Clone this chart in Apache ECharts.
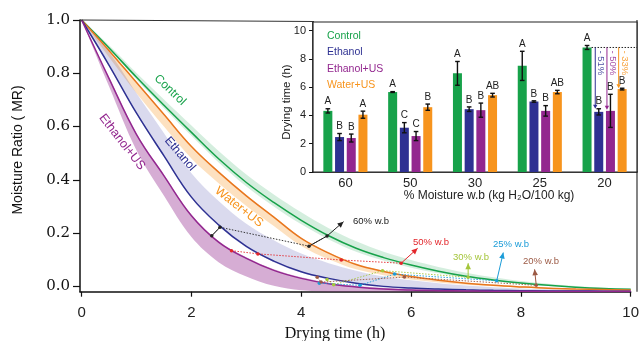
<!DOCTYPE html>
<html><head><meta charset="utf-8">
<script src="https://cdn.jsdelivr.net/npm/echarts@6/dist/echarts.min.js"></script>
<style>html,body{margin:0;padding:0;background:#fff}#c{width:642px;height:341px}</style>
</head><body><div id="c"></div>
<script>
// ---------- main chart data (drying curves) ----------
const timeH = [0,0.5,1,1.5,2,2.5,3,3.5,4,4.5,5,5.5,6,6.5,7,7.5,8,8.5,9,9.5,10];
const mrControl = [1.0,0.895,0.785,0.68,0.578,0.478,0.39,0.315,0.248,0.19,0.143,0.108,0.08,0.057,0.038,0.024,0.013,0.004,-0.003,-0.008,-0.011];
const loControl = [1.0,0.89,0.777,0.669,0.565,0.464,0.375,0.30,0.233,0.176,0.13,0.097,0.07,0.049,0.032,0.019,0.009,0.001,-0.005,-0.01,-0.012];
const hiControl = [1.0,0.905,0.801,0.702,0.604,0.507,0.42,0.345,0.278,0.218,0.169,0.13,0.099,0.073,0.051,0.034,0.02,0.01,0.001,-0.005,-0.009];
const mrEthanol = [1.0,0.83,0.65,0.49,0.335,0.23,0.15,0.095,0.055,0.03,0.012,0.0,-0.006,-0.01,-0.013,-0.015,-0.016,-0.017,-0.017,-0.018,-0.018];
const loEthanol = [1.0,0.826,0.646,0.486,0.331,0.226,0.146,0.091,0.051,0.026,0.008,-0.004,-0.01,-0.014,-0.017,-0.019,-0.02,-0.02,-0.02,-0.02,-0.02];
const hiEthanol = [1.0,0.88,0.725,0.575,0.425,0.32,0.235,0.173,0.123,0.087,0.059,0.037,0.023,0.012,0.003,-0.003,-0.008,-0.011,-0.013,-0.015,-0.016];
const mrEthUS = [1.0,0.78,0.57,0.415,0.265,0.165,0.105,0.06,0.03,0.01,-0.002,-0.01,-0.014,-0.016,-0.017,-0.018,-0.018,-0.019,-0.019,-0.019,-0.019];
const loEthUS = [1.0,0.75,0.51,0.34,0.185,0.09,0.037,0.002,-0.015,-0.02,-0.02,-0.02,-0.02,-0.02,-0.02,-0.02,-0.02,-0.02,-0.02,-0.02,-0.02];
const hiEthUS = [1.0,0.784,0.574,0.419,0.269,0.169,0.109,0.064,0.034,0.014,0.002,-0.006,-0.01,-0.012,-0.013,-0.014,-0.014,-0.015,-0.015,-0.015,-0.015];
const mrWater = [1.0,0.885,0.765,0.645,0.525,0.428,0.34,0.26,0.18,0.125,0.082,0.056,0.037,0.023,0.012,0.004,-0.002,-0.007,-0.01,-0.012,-0.014];
const loWater = [1.0,0.86,0.725,0.60,0.48,0.386,0.302,0.227,0.152,0.102,0.064,0.042,0.026,0.015,0.006,0.0,-0.005,-0.009,-0.012,-0.013,-0.015];
const hiWater = [1.0,0.888,0.768,0.648,0.528,0.431,0.343,0.263,0.183,0.128,0.085,0.059,0.04,0.026,0.015,0.007,0.001,-0.004,-0.007,-0.009,-0.011];

// moisture-level markers (time h, MR) in order EtUS/Ethanol/Water/Control
const lvlNames = ['60% w.b','50% w.b','30% w.b','25% w.b','20% w.b'];
const lvl60T = [2.37,2.52,4.14,4.47], lvl60MR = [0.190,0.222,0.151,0.189];
const lvl50T = [2.73,3.21,4.73,5.82], lvl50MR = [0.134,0.122,0.099,0.087];
const lvl30T = [4.47,4.59,5.48,7.04], lvl30MR = [0.026,0.006,0.059,0.034];
const lvl25T = [4.33,5.07,5.70,7.56], lvl25MR = [0.012,0.004,0.046,0.021];
const lvl20T = [4.29,4.36,5.88,8.28], lvl20MR = [0.034,0.016,0.035,0.004];
const arrowEndT = [4.77,6.12,7.04,7.68,8.25];
const arrowEndMR = [0.243,0.143,0.087,0.127,0.064];
const xTicks = [0,2,4,6,8,10];
const yTicks = [0,0.2,0.4,0.6,0.8,1.0];

// ---------- inset data (drying time to reach moisture) ----------
const moistureCats = ['60','50','30','25','20'];
const barControl = [4.32,5.65,6.97,7.50,8.80];
const errControl = [0.15,0.03,0.84,1.03,0.14];
const barEthanol = [2.47,3.13,4.44,4.98,4.25];
const errEthanol = [0.25,0.36,0.16,0.05,0.22];
const barEthUS = [2.40,2.54,4.37,4.32,4.32];
const errEthUS = [0.28,0.32,0.50,0.37,1.17];
const barWater = [4.05,4.58,5.43,5.65,5.86];
const errWater = [0.25,0.22,0.13,0.12,0.06];
const letControl = ['A','A','A','A','A'];
const letEthanol = ['B','C','B','B','B'];
const letEthUS = ['B','C','B','B','B'];
const letWater = ['A','B','AB','AB','B'];
const reductionText = ['- 51%','- 50%','- 33%'];
const reductionTarget = [4.47,4.40,5.92];
const insetTicks = [0,2,4,6,8,10];

// ---------- styles ----------
const SANS = '"Liberation Sans", Arial, sans-serif';
const SERIF = '"Liberation Serif", "Times New Roman", serif';
const C_GREEN = '#17a24a', C_NAVY = '#2e3192', C_PURPLE = '#93278f', C_ORANGE = '#f7941d';
const LINE_ORANGE = '#e8761e';
const lvlColors = ['#222222','#e3262b','#a5c63b','#1b9cd8','#9c5a45'];
const BAR_W = 9, BAR_GAP = 0.3, BAR_STEP = BAR_W * (1 + BAR_GAP);
const barOffset = i => (i - 1.5) * BAR_STEP;

const pair = (xs, ys) => xs.map((x, i) => [x, ys[i]]);

const curves = [
  {name:'Control', mr:mrControl, lo:loControl, hi:hiControl, line:C_GREEN, band:'rgba(40,170,90,0.2)'},
  {name:'Water+US', mr:mrWater, lo:loWater, hi:hiWater, line:LINE_ORANGE, band:'rgba(247,148,29,0.28)'},
  {name:'Ethanol', mr:mrEthanol, lo:loEthanol, hi:hiEthanol, line:C_NAVY, band:'rgba(70,70,170,0.2)'},
  {name:'Ethanol+US', mr:mrEthUS, lo:loEthUS, hi:hiEthUS, line:C_PURPLE, band:'rgba(146,39,143,0.38)'}
];

const series = [];
curves.forEach((c, k) => {
  series.push({type:'custom', name:c.name+' band', xAxisIndex:0, yAxisIndex:0, clip:true, z:1, silent:true,
    data: timeH.map((t, i) => [t, c.lo[i], c.hi[i]]), encode:{x:0, y:[1,2]},
    renderItem(params, api) {
      if (params.dataIndex !== 0) return null;
      const up = timeH.map((t, i) => api.coord([t, c.hi[i]]));
      const dn = timeH.map((t, i) => api.coord([t, c.lo[i]])).reverse();
      return {type:'polygon', shape:{points: up.concat(dn), smooth:0.35}, style:{fill:c.band}};
    }});
});
curves.forEach(c => {
  series.push({type:'line', name:c.name, xAxisIndex:0, yAxisIndex:0, data: pair(timeH, c.mr), smooth:0.4,
    showSymbol:false, symbol:'none', lineStyle:{color:c.line, width:1.5}, z:3});
});

const lvlT = [lvl60T, lvl50T, lvl30T, lvl25T, lvl20T];
const lvlMR = [lvl60MR, lvl50MR, lvl30MR, lvl25MR, lvl20MR];
lvlT.forEach((ts, k) => {
  series.push({type:'line', name:lvlNames[k], xAxisIndex:0, yAxisIndex:0, data: pair(ts, lvlMR[k]),
    symbol:'circle', symbolSize:3.5, showSymbol:true, itemStyle:{color:lvlColors[k]},
    lineStyle:{color:lvlColors[k], width:0.9, type:[1.5,1.5]}, z:4});
});

// segments: solid links for 60% and arrows to labels
const segData = [], segHead = [], segColor = [];
segData.push([lvl60T[0], lvl60MR[0], lvl60T[1], lvl60MR[1]]); segHead.push(0); segColor.push(lvlColors[0]);
segData.push([lvl60T[2], lvl60MR[2], lvl60T[3], lvl60MR[3]]); segHead.push(0); segColor.push(lvlColors[0]);
lvlT.forEach((ts, k) => {
  segData.push([ts[3], lvlMR[k][3], arrowEndT[k], arrowEndMR[k]]); segHead.push(1); segColor.push(lvlColors[k]);
});
function arrowHead(x1, y1, x2, y2, col, hl, hw) {
  const dx = x2 - x1, dy = y2 - y1, L = Math.hypot(dx, dy) || 1, ux = dx / L, uy = dy / L;
  const bx = x2 - ux * hl, by = y2 - uy * hl;
  return {type:'polygon', shape:{points:[[x2, y2], [bx - uy * hw, by + ux * hw], [bx + uy * hw, by - ux * hw]]}, style:{fill:col}};
}
series.push({type:'custom', name:'segments', xAxisIndex:0, yAxisIndex:0, data:segData, encode:{x:[0,2], y:[1,3]}, clip:false, z:5,
  renderItem(params, api) {
    const i = params.dataIndex;
    const p1 = api.coord([api.value(0), api.value(1)]);
    const p2 = api.coord([api.value(2), api.value(3)]);
    const col = segColor[i];
    const ch = [{type:'line', shape:{x1:p1[0], y1:p1[1], x2:p2[0], y2:p2[1]}, style:{stroke:col, lineWidth:1}}];
    if (segHead[i]) ch.push(arrowHead(p1[0], p1[1], p2[0], p2[1], col, 6, 2.8));
    return {type:'group', children:ch};
  }});

// ---------- inset bars ----------
const barSets = [
  {name:'Control', v:barControl, e:errControl, l:letControl, c:C_GREEN},
  {name:'Ethanol', v:barEthanol, e:errEthanol, l:letEthanol, c:C_NAVY},
  {name:'Ethanol+US', v:barEthUS, e:errEthUS, l:letEthUS, c:C_PURPLE},
  {name:'Water+US', v:barWater, e:errWater, l:letWater, c:C_ORANGE}
];
barSets.forEach(b => {
  series.push({type:'bar', name:'bar '+b.name, xAxisIndex:1, yAxisIndex:1, data:b.v, barWidth:BAR_W, barGap:(BAR_GAP*100)+'%',
    itemStyle:{color:b.c}, z:6});
});
barSets.forEach((b, si) => {
  series.push({type:'custom', name:'err '+b.name, xAxisIndex:1, yAxisIndex:1, clip:false, z:7,
    data: b.v.map((v, i) => [i, v, b.e[i]]), encode:{x:0, y:1},
    renderItem(params, api) {
      const ci = api.value(0), m = api.value(1), e = api.value(2);
      const c = api.coord([ci, m]);
      const x = c[0] + barOffset(si);
      const top = api.coord([ci, m + e])[1], bot = api.coord([ci, m - e])[1];
      const st = {stroke:'#111', lineWidth:1.4};
      return {type:'group', children:[
        {type:'line', shape:{x1:x, y1:top, x2:x, y2:bot}, style:st},
        {type:'line', shape:{x1:x-2.3, y1:top, x2:x+2.3, y2:top}, style:st},
        {type:'line', shape:{x1:x-2.3, y1:bot, x2:x+2.3, y2:bot}, style:st},
        {type:'text', x:x, y:top-2, style:{text:b.l[params.dataIndex], font:'10px '+SANS, fill:'#222',
          align:'center', verticalAlign:'bottom', textAlign:'center', textVerticalAlign:'bottom'}}
      ]};
    }});
});
// reduction annotation at 20 %
series.push({type:'custom', name:'reduction', xAxisIndex:1, yAxisIndex:1, clip:false, z:8,
  data:[[moistureCats.length - 1, barControl[barControl.length - 1]]], encode:{x:0, y:1},
  renderItem(params, api) {
    const ci = api.value(0), v = api.value(1);
    const c = api.coord([ci, v]);
    const cs = params.coordSys;
    const ch = [{type:'line', shape:{x1:c[0] + barOffset(0) + BAR_W/2, y1:c[1], x2:cs.x + cs.width, y2:c[1]},
      style:{stroke:'#222', lineWidth:1, lineDash:[1.5,1.5]}}];
    const cols = [C_NAVY, C_PURPLE, C_ORANGE];
    for (let k = 0; k < 3; k++) {
      const xa = c[0] + barOffset(k + 1) - BAR_W/2 + 1;
      const yt = api.coord([ci, reductionTarget[k]])[1];
      ch.push({type:'line', shape:{x1:xa, y1:c[1], x2:xa, y2:yt - 3}, style:{stroke:cols[k], lineWidth:1}});
      ch.push(arrowHead(xa, c[1], xa, yt, cols[k], 4, 2.2));
      ch.push({type:'text', x:xa + 5.5, y:c[1] + 3, rotation:-Math.PI/2,
        style:{text:reductionText[k], font:'9.5px '+SANS, fill:cols[k], opacity:0.85,
          align:'left', verticalAlign:'middle', textAlign:'left', textVerticalAlign:'middle'}});
    }
    return {type:'group', children:ch};
  }});

// ---------- texts ----------
const g = [];
const txt = (text, x, y, font, fill, rot, align, vAlign) => ({type:'text', x, y, rotation:rot||0, z:100,
  style:{text, font, fill, align:align||'center', verticalAlign:vAlign||'middle', textAlign:align||'center', textVerticalAlign:vAlign||'middle'}});
const deg = d => d * Math.PI / 180;
g.push({type:'line', z:100, shape:{x1:80, y1:20, x2:314, y2:21.5}, style:{stroke:'#333', lineWidth:1.2}});
g.push({type:'line', z:0, shape:{x1:637, y1:20, x2:637, y2:291.7}, style:{stroke:'#333', lineWidth:1.2}});
g.push(txt('Control', 170, 90, '12px '+SANS, C_GREEN, deg(-44)));
g.push(txt('Ethanol', 180, 154, '12px '+SANS, C_NAVY, deg(-49)));
g.push(txt('Ethanol+US', 122, 142, '12.5px '+SANS, C_PURPLE, deg(-52)));
g.push(txt('Water+US', 239, 207, '12.5px '+SANS, C_ORANGE, deg(-38)));
const lvlLabelXY = [[353,221],[413,242],[453,257],[493,244],[523,261]];
lvlNames.forEach((n, k) => g.push(txt(n, lvlLabelXY[k][0], lvlLabelXY[k][1], '9.5px '+SANS, lvlColors[k], 0, 'left')));
g.push(txt('Moisture Ratio ( MR)', 18, 150, '14px '+SANS, '#111', deg(90)));
g.push(txt('Drying time (h)', 335, 334, '16px '+SERIF, '#111'));
g.push(txt('Drying time (h)', 287, 102, '11.5px '+SANS, '#222', deg(90)));
g.push(txt('% Moisture w.b (kg H\u2082O/100 kg)', 489, 196, '12px '+SANS, '#222'));
const legendNames = ['Control','Ethanol','Ethanol+US','Water+US'];
const legendColors = [C_GREEN, C_NAVY, C_PURPLE, C_ORANGE];
const legendY = [36, 52.5, 69.5, 85.5];
legendNames.forEach((n, k) => g.push(txt(n, 327, legendY[k], '10.5px '+SANS, legendColors[k], 0, 'left')));

const option = {
  animation:false,
  backgroundColor:'#fff',
  grid:[
    {left:80, right:5, top:20, bottom:49.3, show:false},
    {left:313, right:5, top:22, bottom:169, show:true, backgroundColor:'#fff', borderColor:'#222', borderWidth:1.2, z:1}
  ],
  xAxis:[
    {type:'value', gridIndex:0, min:-0.03, max:10,
      axisLine:{show:true, onZero:false, lineStyle:{color:'#111', width:1.5}},
      axisTick:{show:true, inside:false, length:5, customValues:xTicks, lineStyle:{color:'#111', width:1.2}},
      axisLabel:{customValues:xTicks, fontFamily:SANS, fontSize:15, color:'#222', margin:14},
      splitLine:{show:false}},
    {type:'category', gridIndex:1, data:moistureCats,
      axisLine:{show:true, lineStyle:{color:'#111', width:1.5}},
      axisTick:{show:false},
      axisLabel:{fontFamily:SANS, fontSize:13, color:'#222', margin:5},
      splitLine:{show:false}}
  ],
  yAxis:[
    {type:'value', gridIndex:0, min:-0.02, max:1,
      axisLine:{show:true, onZero:false, lineStyle:{color:'#111', width:1.5}},
      axisTick:{show:true, length:7, customValues:yTicks, lineStyle:{color:'#111', width:1.2}},
      axisLabel:{customValues:yTicks, formatter:v => Number(v).toFixed(1), fontFamily:'"DejaVu Serif", serif', fontSize:15, color:'#111', margin:10},
      splitLine:{show:false}},
    {type:'value', gridIndex:1, min:0, max:10.6,
      axisLine:{show:true, lineStyle:{color:'#111', width:1.5}},
      axisTick:{show:true, length:4, customValues:insetTicks, lineStyle:{color:'#111'}},
      axisLabel:{customValues:insetTicks, fontFamily:SANS, fontSize:11, color:'#222', margin:7},
      splitLine:{show:false}}
  ],
  graphic:{elements:g},
  series
};
const chart = echarts.init(document.getElementById('c'));
chart.setOption(option);
</script>
</body></html>
